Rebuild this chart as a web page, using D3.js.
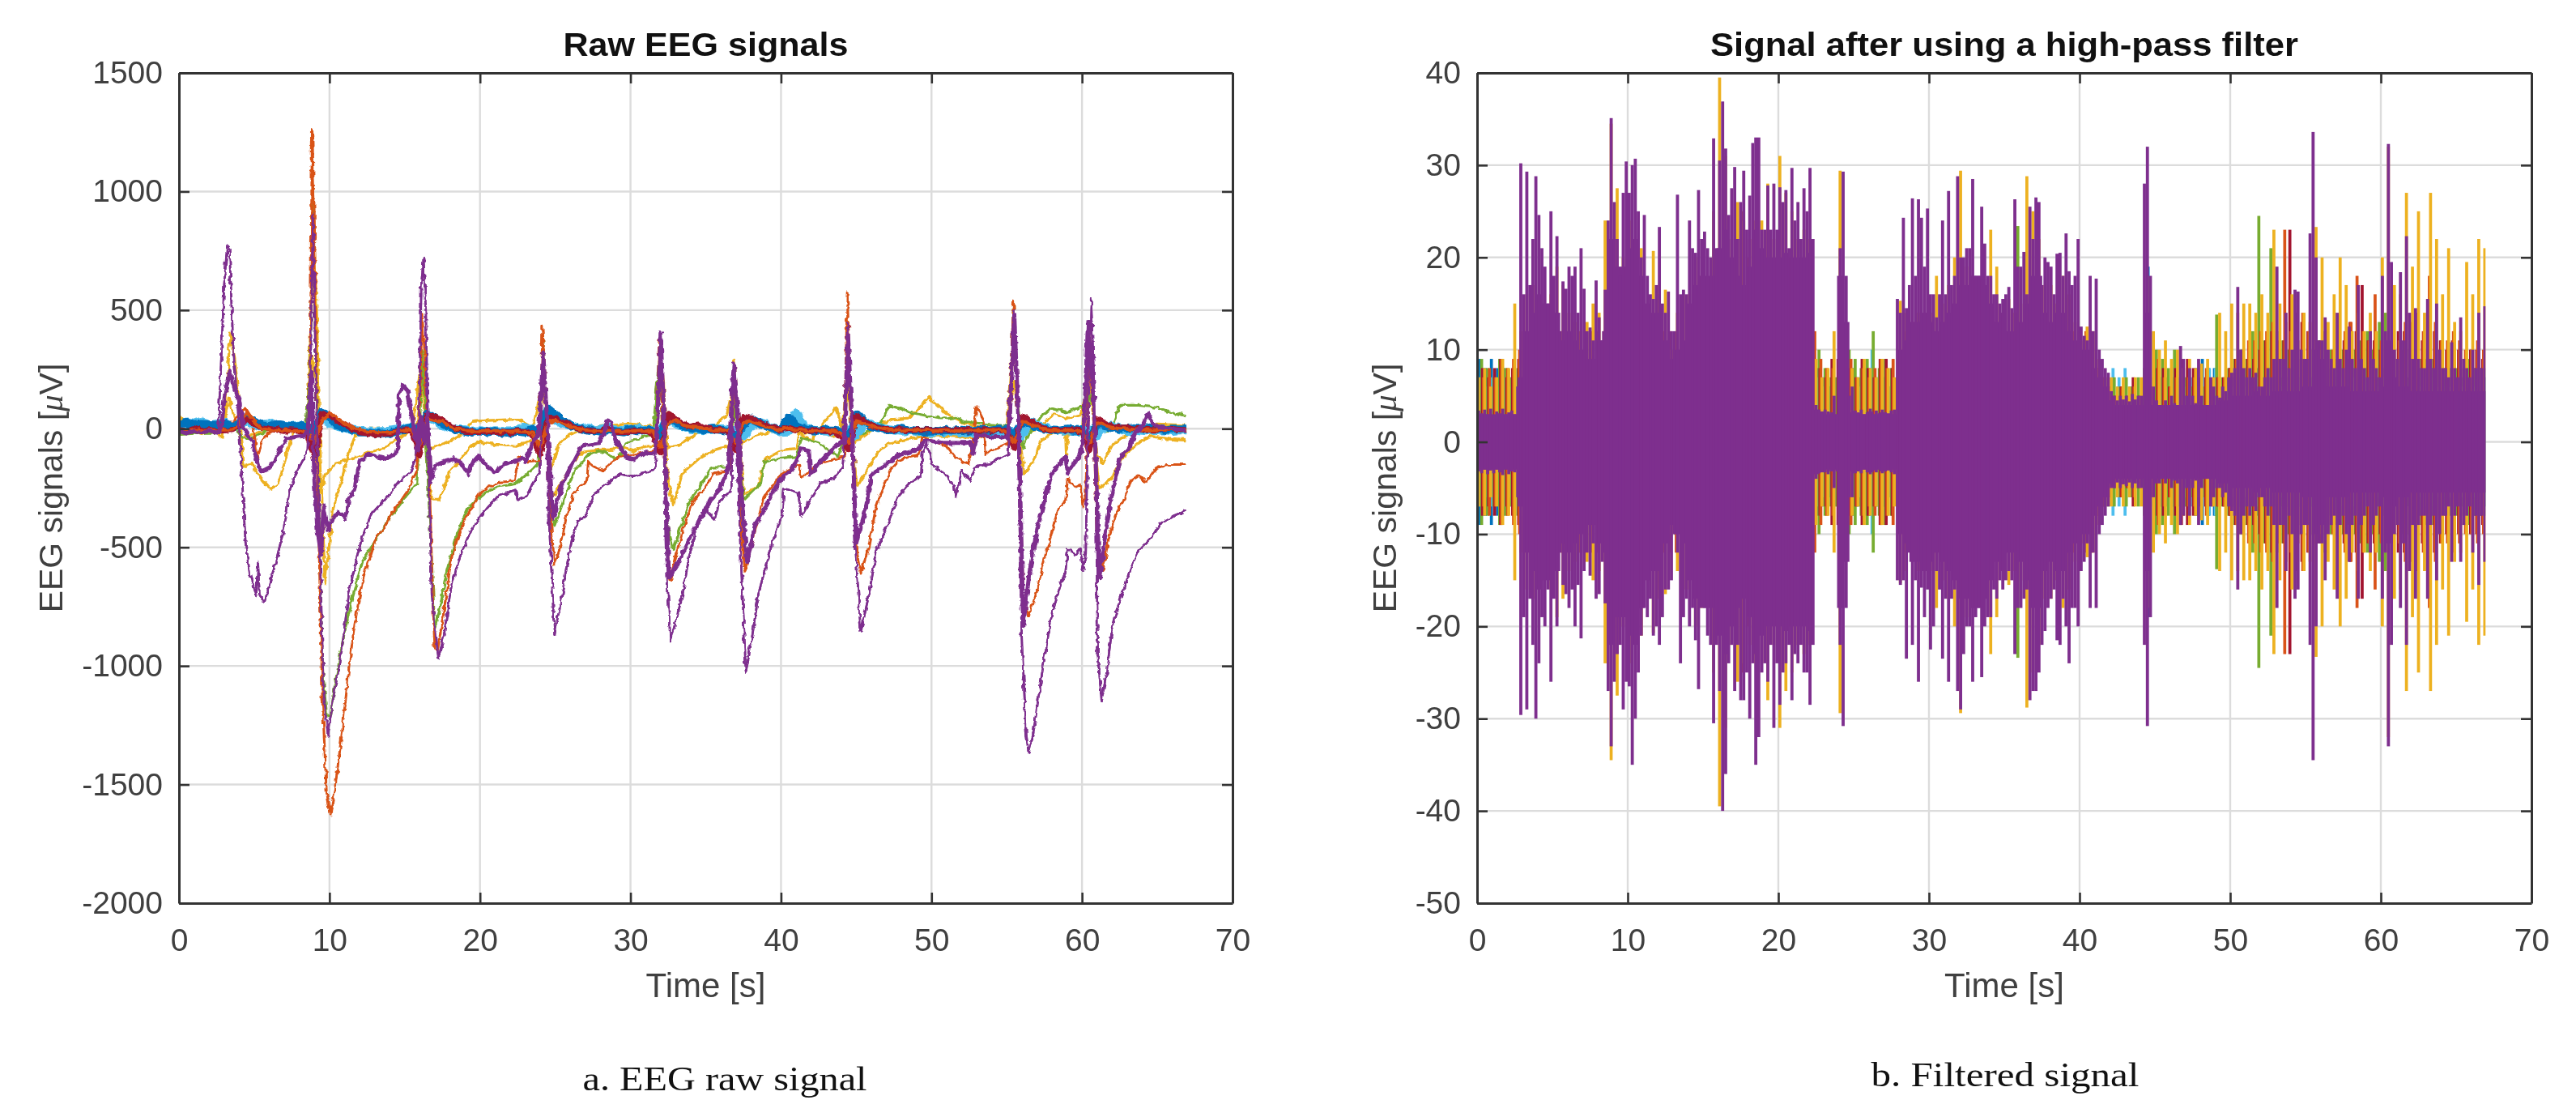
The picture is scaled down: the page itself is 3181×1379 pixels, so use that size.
<!DOCTYPE html>
<html><head><meta charset="utf-8">
<script src="https://cdnjs.cloudflare.com/ajax/libs/d3/7.8.5/d3.min.js"></script>
<style>
html,body{margin:0;padding:0;background:#fff}
svg{display:block;filter:blur(0.75px)}
text{font-family:"Liberation Sans",Arial,sans-serif;fill:#404040}
</style></head><body><svg id="c" width="3181" height="1379"></svg>
<script>
const xTicks=[0,10,20,30,40,50,60,70];
const rawTicks=[-2000,-1500,-1000,-500,0,500,1000,1500];
const filtTicks=[-50,-40,-30,-20,-10,0,10,20,30,40];

/* ---- panel a: [t, µV] ---- */
const rawPurpleDeep=[[0,-15],[1,-12],[2,-15],[2.6,-5],[2.75,200],[3,600],[3.2,770],[3.35,760],[3.6,350],[3.9,100],[4.15,-154],[4.42,-480],[4.7,-610],[5.14,-702],[5.25,-565],[5.35,-700],[5.68,-730],[6.04,-650],[6.5,-545],[6.85,-455],[7.1,-376],[7.3,-270],[7.74,-193],[8.28,-127],[8.55,-88],[8.75,300],[8.9,900],[9.1,200],[9.4,-600],[9.6,-1100],[9.9,-1297],[10.25,-1134],[10.8,-938],[11.3,-690],[11.85,-532],[12.2,-454],[12.76,-362],[13.85,-284],[14.7,-219],[15.4,-180],[15.7,-127],[15.95,50],[16.1,600],[16.25,720],[16.4,500],[16.6,-200],[16.8,-700],[17.24,-970],[17.6,-872],[18.1,-663],[18.7,-532],[19.4,-428],[20.1,-362],[21.2,-284],[22.35,-258],[22.5,-297],[23.1,-284],[23.5,-230],[23.95,-186],[24.1,100],[24.25,300],[24.4,100],[24.6,-400],[24.95,-869],[25.4,-720],[25.75,-584],[26.1,-470],[26.5,-390],[27,-368],[27.55,-277],[28.45,-231],[29.25,-191],[30.2,-203],[30.95,-186],[31.65,-174],[31.85,100],[32,410],[32.15,150],[32.35,-500],[32.65,-897],[33.1,-789],[33.45,-703],[33.9,-538],[34.5,-402],[35.05,-345],[35.6,-379],[35.95,-300],[36.4,-277],[36.7,-265],[36.85,260],[37,120],[37.3,-493],[37.67,-1028],[38.1,-869],[38.5,-698],[39.2,-527],[40.1,-356],[40.2,-250],[40.5,-254],[41.15,-271],[41.35,-368],[41.85,-311],[42.6,-231],[43.5,-208],[44.1,-163],[44.3,100],[44.45,440],[44.65,100],[44.95,-500],[45.3,-857],[45.85,-698],[46.35,-516],[46.7,-459],[47.25,-379],[47.8,-282],[48.5,-231],[49.3,-203],[49.4,-100],[49.7,-60],[50.05,-151],[50.85,-186],[51.5,-242],[51.65,-288],[52,-174],[52.55,-220],[52.9,-163],[53.9,-146],[55.1,-106],[55.3,100],[55.5,500],[55.7,100],[56,-891],[56.3,-1290],[56.45,-1370],[56.75,-1290],[57.3,-1051],[58,-778],[58.55,-664],[58.9,-607],[59.05,-504],[59.55,-533],[59.9,-504],[60.05,-595],[60.25,-527],[60.4,100],[60.6,550],[60.85,100],[61.05,-948],[61.3,-1148],[61.6,-1039],[61.95,-869],[62.2,-789],[62.7,-686],[63.2,-595],[63.75,-516],[64.65,-459],[65.2,-402],[66.05,-368],[66.9,-345]];
const rawPurpleThick=[[0,-10],[0.5,-20],[1,-10],[1.5,-18],[2,-8],[2.5,-20],[2.8,-10],[3,120],[3.35,245],[3.6,190],[4,120],[4.3,0],[4.85,-50],[5.24,-153],[5.5,-180],[6.1,-160],[6.6,-100],[7.2,-40],[8.3,-30],[8.55,-10],[8.8,240],[9,-220],[9.2,-428],[9.45,-532],[9.6,-323],[9.9,-430],[10.25,-375],[10.6,-350],[11.05,-380],[11.3,-297],[11.7,-245],[12,-140],[12.6,-108],[13.3,-120],[13.8,-127],[14.45,-101],[14.55,-60],[14.6,147],[14.9,180],[15.2,160],[15.4,75],[15.7,-22],[15.9,-88],[16.1,50],[16.3,-60],[16.5,40],[16.7,-220],[17,-155],[17.6,-140],[18.3,-127],[18.8,-150],[19.2,-190],[19.4,-150],[19.9,-115],[20.5,-160],[21,-180],[21.6,-150],[22.1,-140],[22.8,-127],[23,-140],[23.5,-60],[23.9,-20],[24.2,320],[24.4,100],[24.85,-379],[25.4,-242],[26.1,-151],[26.75,-72],[27.9,-60],[28.25,-20],[28.45,36],[28.7,30],[29,-49],[29.7,-117],[30.2,-129],[30.95,-100],[31.65,-106],[31.8,50],[32,400],[32.2,100],[32.55,-630],[33.1,-573],[33.8,-482],[34.7,-368],[35.4,-294],[35.95,-254],[36.3,-197],[36.5,-170],[36.7,100],[36.87,275],[37.1,100],[37.4,-300],[37.75,-561],[38.3,-402],[38.85,-345],[39.55,-254],[40.2,-197],[40.7,-174],[41.15,-117],[41.35,-83],[41.85,-90],[41.95,-197],[42.6,-140],[43.3,-94],[44.2,-49],[44.45,400],[44.7,50],[45,-482],[45.6,-345],[46,-197],[46.7,-163],[47.8,-112],[49.05,-89],[49.6,-49],[50.8,-60],[52.6,-60],[52.8,-106],[53,-26],[53.9,-32],[55.1,-38],[55.5,480],[55.8,0],[56.1,-834],[56.5,-607],[56.95,-447],[57.5,-300],[58,-186],[58.9,-117],[59.05,-186],[59.9,-106],[60.1,-38],[60.4,450],[60.8,100],[61.15,-630],[61.6,-425],[61.95,-288],[62.5,-129],[63.2,-72],[63.55,-15],[64,10],[64.4,65],[64.7,25],[65.2,5],[66,0],[66.9,-8]];
const rawOrange=[[0,-5],[2.6,-5],[3,0],[3.6,30],[4,60],[4.4,90],[4.7,60],[5,-20],[5.2,-120],[5.4,-85],[5.7,-30],[6.2,-10],[8.4,-10],[8.7,50],[8.85,1260],[9,900],[9.2,-200],[9.53,-1134],[9.8,-1526],[10.07,-1624],[10.4,-1500],[10.87,-1265],[11.3,-1003],[11.68,-820],[12.2,-637],[12.76,-520],[13.1,-461],[13.65,-415],[14.35,-337],[15.1,-271],[15.6,-206],[15.8,-180],[16,100],[16.15,480],[16.35,300],[16.6,-100],[16.85,-700],[17,-925],[17.2,-930],[17.6,-768],[18.1,-545],[18.7,-428],[19.4,-336],[20.1,-265],[21.2,-226],[22.35,-219],[22.6,-115],[23,-140],[23.8,-134],[24,-130],[24.15,430],[24.35,200],[24.6,-300],[24.95,-573],[25.4,-482],[25.75,-368],[26.2,-277],[26.65,-242],[27.1,-220],[27.2,-140],[27.7,-163],[28.15,-174],[28.6,-151],[29.15,-117],[30,-110],[31,-100],[31.7,-90],[31.9,380],[32.1,100],[32.4,-400],[32.65,-640],[33.1,-516],[33.6,-402],[34.2,-300],[34.9,-254],[35.5,-191],[36.3,-180],[36.7,-160],[36.85,200],[37.05,100],[37.35,-400],[37.6,-601],[38.3,-425],[38.85,-288],[40.1,-186],[41.2,-150],[41.35,-208],[41.85,-180],[42.6,-146],[43.5,-129],[44.2,-117],[44.4,575],[44.6,200],[44.95,-450],[45.3,-607],[45.8,-504],[46.3,-334],[46.7,-265],[47.25,-174],[47.8,-134],[49.2,-106],[49.4,-30],[49.95,-49],[51,-72],[51.55,-117],[52.45,-151],[52.75,-60],[53,93],[53.5,30],[53.6,-110],[53.9,-94],[55.1,-60],[55.45,540],[55.7,200],[56.1,-720],[56.45,-789],[56.95,-698],[57.5,-550],[57.95,-447],[58.35,-345],[58.9,-305],[59.05,-208],[59.55,-248],[59.9,-237],[60.05,-328],[60.25,-282],[60.45,300],[60.75,100],[61.05,-584],[61.4,-595],[61.75,-470],[62.2,-368],[62.85,-288],[63.2,-220],[63.75,-197],[64.2,-225],[65,-163],[66.05,-151],[66.9,-151]];
const rawGreen=[[0,-25],[1,-20],[2.5,-20],[3,-10],[3.5,20],[4,-20],[4.5,-45],[5,-35],[5.5,-20],[6,-5],[8.4,-5],[8.7,200],[8.9,950],[9.1,300],[9.35,-532],[9.53,-1003],[9.8,-1200],[10.07,-1213],[10.4,-1068],[10.95,-872],[11.5,-716],[12.2,-559],[13.1,-467],[14,-376],[14.9,-298],[15.8,-232],[16,0],[16.15,330],[16.35,100],[16.6,-300],[17,-853],[17.3,-768],[17.8,-598],[18.5,-441],[19.2,-336],[19.6,-310],[20.3,-271],[21.2,-245],[22.4,-232],[23.8,-154],[24,-50],[24.2,370],[24.4,100],[24.7,-300],[24.95,-408],[25.4,-330],[25.75,-265],[26.3,-174],[26.8,-140],[27.2,-112],[27.9,-94],[28.4,-98],[28.9,-123],[29.2,-117],[29.7,-60],[31.5,-20],[31.9,300],[32.1,100],[32.5,-420],[32.85,-510],[33.4,-402],[33.8,-322],[34.5,-254],[35.4,-163],[36.5,-163],[36.8,0],[36.95,120],[37.2,-100],[37.55,-300],[38.65,-231],[38.9,-140],[40.1,-123],[41,-117],[41.4,-38],[42.5,-60],[43.3,-94],[43.8,-117],[44.2,-40],[44.45,300],[44.7,50],[45,-38],[46,0],[46.7,30],[47.2,99],[47.8,88],[48.5,70],[49.8,53],[51,42],[51.6,48],[52.1,30],[55.2,10],[55.45,520],[55.7,150],[56.1,-80],[56.5,-20],[57.3,53],[58,88],[59,70],[59.95,93],[60.3,60],[60.6,150],[60.9,30],[61.5,-10],[62,10],[62.5,99],[63.75,99],[65,88],[66.9,53]];
const rawYellowLow=[[0,25],[0.5,-20],[1,-15],[1.5,-25],[2,-10],[2.5,-20],[2.9,-40],[3.1,100],[3.4,400],[3.7,300],[4,100],[4.3,-160],[4.85,-147],[5.4,-206],[6.1,-258],[6.6,-232],[6.9,-170],[7.3,-75],[7.6,-10],[8,10],[8.5,5],[8.8,500],[8.95,850],[9.15,500],[9.4,-100],[9.7,-650],[10,-480],[10.25,-336],[10.8,-219],[11.3,-101],[11.7,-30],[12.5,0],[15,0],[15.8,5],[16.05,150],[16.2,300],[16.4,-50],[16.8,-297],[17.3,-297],[18,-180],[18.7,-127],[19.4,-75],[20,-55],[21.2,-68],[22.4,-75],[23.5,-50],[24,0],[24.2,250],[24.45,0],[24.75,-294],[25.4,-231],[26.1,-151],[26.8,-100],[27.9,-89],[28.8,-89],[29.25,-75],[30.2,-94],[30.95,-75],[31.6,-72],[31.85,100],[32,300],[32.2,200],[32.45,-200],[32.85,-322],[33.45,-186],[34.5,-129],[35.6,-89],[36.5,-72],[36.75,150],[36.9,290],[37.1,120],[37.35,-150],[37.55,-277],[38.5,-242],[38.95,-129],[40.1,-89],[41,-83],[41.3,30],[41.6,-20],[42.5,-10],[43.5,-30],[44.1,-20],[44.4,300],[44.65,0],[45.05,-242],[45.8,-163],[46.6,-90],[47.25,-60],[48.5,-43],[49.5,-30],[51,-30],[53,-40],[54,-20],[55,-10],[55.45,450],[55.8,0],[56.15,-191],[56.75,-140],[57.3,-49],[58,-20],[58.9,-20],[58.95,-106],[59.1,-20],[60,-20],[60.5,400],[60.9,-100],[61.15,-254],[61.95,-208],[62.5,-140],[63.2,-89],[64,-50],[64.65,-32],[65.7,-43],[66.9,-49]];
const rawYellowHigh=[[0,55],[0.5,20],[1,30],[1.5,15],[2,30],[2.5,10],[3,5],[3.35,130],[3.7,40],[4.1,-40],[5,-20],[6,-5],[8.5,-5],[8.8,300],[9.1,200],[9.45,-270],[9.7,-193],[10.4,-147],[11.5,-127],[12.6,-101],[13.85,-75],[14.55,-42],[15.5,-5],[16.1,280],[16.4,-40],[16.6,-88],[17.6,-62],[18.5,-36],[19,-10],[19.5,30],[20.5,35],[22.5,40],[23.5,5],[24.2,200],[24.5,-20],[24.7,-174],[25.2,-72],[25.75,-32],[26.5,-10],[28,10],[30,20],[31.5,10],[32,150],[32.5,-83],[33.5,-60],[34.5,-15],[35.5,5],[36.4,60],[36.9,200],[37.4,-60],[38.3,-32],[39.5,-10],[40.5,10],[41.3,-20],[42,-50],[43,40],[43.7,90],[44,10],[44.5,150],[44.9,-60],[45.5,-30],[46.5,20],[47.5,40],[48.5,45],[49.2,88],[49.8,133],[51,65],[51.9,30],[53,10],[55,0],[55.5,200],[55.9,-20],[57,0],[58.2,65],[58.9,40],[59.9,60],[60.5,200],[61,-110],[61.4,-146],[62,-70],[62.6,-40],[64,10],[65,20],[66.9,14]];

/* thick band round zero, one value each half second */
const bandBlue=[20,25,15,20,18,15,20,10,20,50,30,15,10,20,15,10,15,10,-40,70,45,15,5,-5,-15,-15,-20,-18,-20,-10,-5,10,-20,60,45,20,5,-5,-8,-15,-10,-15,-10,-18,-15,-12,-15,-5,-10,85,60,30,15,5,-5,-10,-15,-5,-10,-15,-5,-10,-5,-10,-30,50,30,10,5,0,-5,0,-5,-10,-50,20,40,25,10,0,-5,50,10,0,-5,-8,-5,-5,-10,-50,60,30,10,5,-5,-5,0,-5,-8,-10,-8,-10,-5,-8,-5,-8,-5,-5,-5,0,-5,-30,30,25,10,0,-5,-5,0,-5,-5,-60,25,15,5,0,0,5,0,5,0,-5,0,0,0];
const bandRed=[-5,-10,0,-8,-5,-10,-8,-5,10,40,20,5,0,-5,-10,-5,-10,-20,-120,60,60,35,20,0,-15,-20,-25,-22,-20,-10,-5,-10,-110,55,50,35,15,0,-10,-12,-15,-10,-15,-12,-15,-10,-10,-20,-110,50,45,25,15,0,-5,-10,-10,0,-15,-15,-10,-10,-10,-20,-100,60,40,20,10,15,5,-5,-5,-15,-90,50,45,25,15,5,-5,5,-5,-5,-10,-5,-10,-10,-30,-90,55,30,15,5,0,-5,-5,-8,-5,-5,-5,-8,-5,-7,-5,-6,-8,-5,-7,-5,-10,-80,50,35,15,0,-5,-5,-5,-5,-10,-90,40,25,10,5,5,0,0,-5,-5,0,0,-5,-5];
const bandOrange=[-5,-8,-3,-10,-5,-8,-5,-5,15,70,30,0,-5,-8,-5,-10,-8,-15,-60,30,70,45,25,5,-5,-10,-15,-12,-15,-10,-5,-5,-70,45,35,30,10,0,-8,-10,-12,-10,-8,-10,-12,-10,-12,-15,-80,30,35,20,10,0,-5,-8,-10,-8,-10,-12,-10,-8,-10,-12,-80,25,35,15,8,5,0,-5,-5,-8,-60,25,30,20,10,0,-5,5,-5,-5,-10,-8,-8,-10,-20,-60,30,20,10,5,0,-5,-8,-5,-8,-5,-8,-10,-5,-8,-10,-8,-5,-8,-8,-5,-15,-60,30,20,10,0,-5,-8,-5,-8,-10,-60,25,15,5,0,0,-5,-3,-5,-3,-5,-3,-5,-5];
const bandCyan=[15,25,20,30,15,20,25,5,10,35,20,10,20,10,15,10,15,5,-10,50,25,10,5,-5,-10,-12,-15,-12,-10,-5,0,5,-15,50,35,15,5,-3,-5,-10,-8,-12,-8,-10,-8,-5,0,-5,-10,60,40,20,15,5,0,-5,-5,0,-5,-8,-5,0,-5,-8,-15,40,20,10,0,-3,-5,-3,0,-5,-8,-30,15,25,15,0,-12,-10,65,10,-5,-8,-10,-8,-10,-8,-30,30,20,5,0,-5,-10,-8,-12,-10,-15,-12,-10,-12,-15,-12,-15,-12,-10,-15,-10,-12,-30,30,15,5,-5,-8,-5,-8,-5,-10,-30,15,10,0,-12,-5,-10,-5,-8,-5,-8,-5,-5];

/* ---- panel b: extremes of the purple channel every 0.2 s ---- */
const filtTop=[3.4,3.1,3.5,3,3.6,2.9,3.3,3.1,3.6,3,3.2,3.4,3,6,30.2,16,29.3,17,22,28.8,
24.6,21,19,15,25,18,22.3,12,17.4,16.6,19,18,19,14,21,16.6,12,12.4,11,17.5,
13.5,11,16.5,24,35.1,26,22,18,27,30.4,27,30,30.7,25,20,24.6,18,16,15.5,17,
23.3,15,14,16.3,12,12,26.8,16,16.5,16,24,21,20.5,27.3,22,22.8,21,20,32.9,21,
30.5,36.9,31.8,24.6,27.5,29.8,22,26,29.4,23,26.7,32.4,33,33,23,23,27.8,23,28,23,
27.6,26,27.3,21,29.7,24,26,22,27.5,25,29.7,22,4,3.5,3.2,3.5,3.3,3.2,5,3,
21,29.3,18,5,6,3.4,3.2,3.5,3,3.2,3.6,3,3.4,3.1,3.5,3.2,3,3.4,3.5,15.5,
14,24.3,14.5,17,26.4,18,26.3,24.3,19,25.3,16,16,13.5,16,24,16,27.2,17,18,28.8,
20,20,21,21,28.5,18,18,25.5,21.5,18,18,16,16,15,15.5,16,16.8,14.5,26.3,19,
19,20.6,16,25.5,22,26.5,26,17,20,19.5,19,16,20.4,20.5,18,22.6,18.5,17,18,22,
12.5,11.5,11,18,12,17.7,10,9,8,7.5,5.5,5,4.5,5,4.6,5,4.4,5.2,4.6,5,
5,28,32,18,6,4.5,4,3.8,4.5,4,5,4.2,4,10.4,9,5,8,5,4.2,9,
5,4,3.8,7,6,5,4.8,6,5.5,7,7.5,8,16.8,10,8,7,8,7,7.5,6,
6,7,8,7,9,19,9,9,14,8,10,16.5,16.3,10,9,9,22.6,33.6,20,11,
11,13.5,10,9,8,14,9,8,10,12.5,9,8,17,9,8,7,12,9,8,7,
18,12,32.3,19.5,10,9,18.4,11,22.3,14,9,14.5,9,8,8,15.5,9,8,15,10,
8,8,7,10.8,8,7,13.5,9,8,7,10,8,14,8,14.7];
const filtBottom=[-3.2,-3.4,-3,-3.5,-3.1,-3.4,-3,-3.3,-3.6,-3,-3.5,-3.2,-3.3,-6,-29.6,-19,-29,-17,-22,-30,
-24,-19,-20,-16,-26,-17,-20,-12,-15.5,-16.5,-18,-16,-20,-15.5,-21.3,-14,-12,-14.5,-11,-17,
-16.5,-13,-17.5,-27,-33,-26,-23,-22,-29,-26,-26.5,-35,-30,-25,-21,-18,-19,-17,-21,-20,
-22,-19,-16,-16,-15,-10,-12,-24,-19,-17,-20,-18,-21.5,-26.8,-17,-18,-21,-22,-30.5,-22,
-27,-40,-36,-24,-22,-27,-22,-28,-28,-25,-30,-24,-35,-32,-25,-24,-26,-22,-31,-24,
-28.5,-25,-24,-22,-28,-23,-24,-22,-25,-25,-28.5,-22,-4,-3.4,-3.2,-3.3,-3.5,-3.2,-5,-3.2,
-22,-30.8,-18,-6,-6,-3.4,-3.2,-3.4,-3,-3.3,-3.5,-3.1,-3.3,-3,-3.4,-3.2,-3,-3.3,-3.5,-15,
-15.5,-15,-23.5,-12,-22,-15,-26,-15.8,-19,-16,-22.5,-20,-14,-16,-23.5,-17,-26,-17,-16,-27,
-29,-23,-20,-20,-26,-19,-18,-25.5,-20,-19,-19,-16,-17,-15,-16,-15,-14,-15,-23,-18,
-18,-17,-16,-28,-27,-27,-25,-22,-20.5,-18,-17,-16,-21.5,-22,-17,-20,-24,-18,-18,-20,
-14,-13,-11,-18,-12,-18,-10,-9,-8,-7,-5,-5,-4.4,-5,-4.6,-4.8,-4.4,-5,-4.5,-5,
-5,-22,-30.8,-19,-6,-4.5,-4.5,-4,-4.5,-4,-5,-4.2,-4.5,-9,-8,-5,-8,-5,-4.2,-9,
-5,-4,-4,-7,-6,-5,-5,-6,-5.5,-7,-7.5,-8,-16,-10,-8,-7,-8,-7,-7.5,-6,
-6,-7,-8,-7,-9,-18,-9,-9,-14,-8,-10,-17,-16,-10,-9,-9,-22,-34.5,-20,-11,
-11,-15,-10,-9,-8,-17,-9,-8,-10,-13,-9,-8,-17,-9,-8,-7,-12,-9,-8,-7,
-17,-12,-33,-22,-10,-9,-18,-11,-22,-14,-9,-17,-9,-8,-8,-17,-9,-8,-15,-10,
-8,-8,-7,-13,-8,-7,-13,-9,-8,-7,-12,-8,-15.5,-8,-13];
/* solid body of the purple channel, half-height every 0.4 s */
const filtBody=[3,3,3,3,3,3,3,7,12,14,
16,15,15,14,11,12,11,10,9,9,
11,12,22,19,19,21,22,18,15,14,
14,11,9,10,11,15,17,18,18,18,
21,23,20,18,17,19,23,21,20,20,
20,20.5,20,20,20,20.5,3.5,3.3,3,3,
18,13,3.2,3.1,3,3.3,3,3.2,3.1,3,
10,11,13,13,14,13,12,13,14,15,
17,17,18,18,17,15,13,14,12,12,
13,15,18,18,14,13,14,14,12,11,
10,10,8,7,6,4.5,4,4,4,4,
4,14,4,4,4,4,4,4,4,4,
4,4,4,4.5,4.5,5,5,5,5,5.5,
5,5,5.5,5.5,5.5,5.5,5.5,6,6,10,
9,6,6,6,6,5.5,5.5,5.5,5.5,5.5,
6,11,7,6,6,5.5,5.5,5.5,5.5,5.5,
5.5,5.5,5.5,5.5,5.5,5.5,5.5,5.5];

/* other channels, half-height every 0.4 s */
const filtYellow=[7,8,6,7,9,8,15,12,16,17,15,14,16,19,17,14,13,12,13,15,14,24,34.5,27.5,20,24,17,21,14,20.7,17,16.5,10,14,16,16,20,18,17,25,39.5,31,22,26,24,22,24,24,28,22,31,27,25,22,23,22,9,7,8,12,29.4,10,8,7,9,8,7,9,8,7,15.3,14,13,14,14,14,18,15,17,20,29.4,19,18,17,17,23,19,14,15.5,14,15,28.8,25,22,17,17,15,18,16,13,11,12.5,12,9,7,7,6,7,6,7,7,18,12,10,11,9,10,8,9,8,8.5,9,7,14,12,15,14,15,15,14,16,14,23,15,13,16,11,14,13,23.3,20,13,16,20,17,12,14,12,14,12,20,32,17,16,27,19,25,14,27,22,16,21,13,12,19.5,16,22,21];
const filtOrange=[7,8,7,9,8,9,10,12,12,12,12,12,12,12,12,12,12,12,12,12,12,12,12,12,17,12,12,12,12,16,12,12,12,12,12,12,12,12,12,12,12,12,12,25,20,12,12,12,12,12,12,12,12,12,12,12,9,8,8,8,10,9,7,8,7,8,9,8,9,8,12,12,12,12,12,12,12,12,12,12,12,12,12,12,12,12,12,12,12,12,12,12,12,12,12,12,12,12,12,12,12,12,8,7,6,5,6,5,6,5,6,6,9,7,6,7,8,7,7,6,8,7,7,7,8,9,10,11,11,12,12,13,11,23,12,13,14,12,11,10,12,10,11,12,13,18,12,11,16,11,10,11,11,13,13,14,12,18,13,11,11,12,11,10,10,11,10,11];
const filtRed=[8,7,8,9,7,8,9,10,10,10,10,10,10,10,10,10,10,10,10,10,10,10,10,10,10,10,10,10,10,10,10,10,10,10,10,10,10,10,10,10,10,10,10,10,10,10,10,10,10,10,10,10,10,10,10,10,8,7,9,9,9,8,7,9,8,7,9,9,8,7,10,10,10,10,10,10,10,10,10,10,10,10,10,10,10,10,10,10,10,10,10,10,10,10,10,10,10,10,10,10,10,10,8,7,6,5,6,5,7,5,6,6,8,8,6,8,9,9,8,7,7,6,7,7,8,9,8,9,9,10,11,12,10,11,23,14,13,12,11,11,10,9,10,11,13,12,17,11,11,10,10,10,12,12,10,12,11,10,12,11,10,11,10,9,10,10,9,10];
const filtGreen=[9,8,7,9,8,7,8,8,8,8,8,8,8,8,8,8,8,8,8,8,8,8,8,8,8,8,8,8,8,8,8,8,8,8,8,8,8,8,8,8,8,8,8,8,8,8,8,8,8,8,8,8,8,8,8,8,10,8,7,7,9,10,9,8,9,12,8,9,8,7,8,8,8,8,8,8,8,8,8,8,8,8,8,8,8,8,8,8,8,23.4,8,8,8,8,8,8,8,8,8,8,8,8,8,7,7,7,6,7,6,7,8,7,10,9,8,10,9,7,6,6,6,6,13.8,7,8,9,10,9,12,24.5,11,21,12,11,10,10,9,9,10,11,12,10,9,10,9,10,11,12,10,13,14,10,9,10,10,9,9,10,9,9,8,8,8,8,9,8,8,8];
const filtBlue=[9,8,9,8,8,7,6,7,7,7,7,7,7,7,7,7,7,7,7,7,7,7,7,7,7,7,7,7,7,7,7,7,7,7,7,7,7,7,7,7,7,7,7,7,7,7,7,7,7,7,7,7,7,7,7,7,8,7,6,7,6,8,8,7,7,8,7,7,6,6,7,7,7,7,7,7,7,7,7,7,7,7,7,7,7,7,7,7,7,7,7,7,7,7,7,7,7,7,7,7,7,7,7,7,6,5,6,6,6,5,6,19,8,7,7,7,6,7,7,8,9,8,8,6,7,7,7,8,7,8,7,8,7,7,7,8,7,7,7,8,8,8,7,8,8,8,7,8,9,7,8,8,7,8,7,8,8,9,8,8,7,8,7,7,8,8,8,7];
const filtCyan=[7,6,7,6,7,6,6,6,6,6,6,6,6,6,6,6,6,6,6,6,6,6,6,6,6,6,6,6,6,6,6,6,6,6,6,6,6,6,6,6,6,6,6,6,6,6,6,6,6,6,6,6,6,6,6,6,7,6,6,5,6,7,8,6,8,10,7,7,6,6,6,6,6,6,6,6,6,6,6,6,6,6,6,6,6,6,6,6,6,6,6,6,6,6,6,6,6,6,6,6,6,6,6,6,6,8,7,8,6,5,4,5,6,7,6,7,7,6,5,6,7,8,8,5,6,6,7,6,6,7,6,7,6,6,7,6,7,6,7,6,6,6,7,7,7,7,7,7,6,6,7,7,6,6,6,7,6,7,7,6,6,6,6,6,7,6,8,8];

const C={blue:"#0072BD",orange:"#D95319",yellow:"#EDB120",purple:"#7E2F8E",green:"#77AC30",cyan:"#4DBEEE",red:"#A2142F"};
const svg=d3.select("#c");
/* drawing-only roughness for the raw traces: the data stay as typed */
const rough=svg.append("filter").attr("id","rough").attr("filterUnits","userSpaceOnUse")
  .attr("x",0).attr("y",0).attr("width",3181).attr("height",1379);
rough.append("feTurbulence").attr("type","fractalNoise").attr("baseFrequency",0.14).attr("numOctaves",2).attr("seed",4).attr("result","n");
rough.append("feDisplacementMap").attr("in","SourceGraphic").attr("in2","n").attr("scale",6).attr("xChannelSelector","R").attr("yChannelSelector","G");

function frame(left,right,top,bottom,yDomain,yTicks,title,titleLen,labelX,id){
  const x=d3.scaleLinear().domain([0,70]).range([left,right]);
  const y=d3.scaleLinear().domain(yDomain).range([bottom,top]);
  const g=svg.append("g");
  g.append("g").selectAll("line").data(xTicks.slice(1,-1)).join("line")
    .attr("x1",d=>x(d)).attr("x2",d=>x(d)).attr("y1",top).attr("y2",bottom)
    .attr("stroke","#dcdcdc").attr("stroke-width",2.4);
  g.append("g").selectAll("line").data(yTicks.slice(1,-1)).join("line")
    .attr("y1",d=>y(d)).attr("y2",d=>y(d)).attr("x1",left).attr("x2",right)
    .attr("stroke","#dcdcdc").attr("stroke-width",2.4);
  svg.append("clipPath").attr("id",id).append("rect")
    .attr("x",x(0)).attr("width",x(66.95)-x(0)).attr("y",top).attr("height",bottom-top);
  const marks=g.append("g").attr("clip-path",`url(#${id})`).append("g");
  const style=a=>{a.selectAll("path").attr("stroke","#333").attr("stroke-width",3);
    a.selectAll("line").attr("stroke","#333").attr("stroke-width",2.6);
    a.selectAll("text").attr("fill","#404040").style("font-size","39px");};
  const over=svg.append("g");
  over.append("g").attr("transform",`translate(0,${bottom})`)
    .call(d3.axisBottom(x).tickValues(xTicks).tickFormat(String).tickSizeInner(-13).tickSizeOuter(0).tickPadding(30)).call(style)
    .call(a=>a.selectAll("text").attr("dy","0.75em"));
  over.append("g").attr("transform",`translate(0,${top})`)
    .call(d3.axisTop(x).tickValues(xTicks).tickFormat("").tickSizeInner(-13).tickSizeOuter(0)).call(style);
  over.append("g").attr("transform",`translate(${left},0)`)
    .call(d3.axisLeft(y).tickValues(yTicks).tickFormat(String).tickSizeInner(-13).tickSizeOuter(0).tickPadding(20)).call(style);
  over.append("g").attr("transform",`translate(${right},0)`)
    .call(d3.axisRight(y).tickValues(yTicks).tickFormat("").tickSizeInner(-13).tickSizeOuter(0)).call(style);
  const cx=(left+right)/2;
  over.append("text").attr("x",cx).attr("y",69).attr("text-anchor","middle")
    .attr("textLength",titleLen).attr("lengthAdjust","spacingAndGlyphs")
    .style("font-size","41px").style("font-weight","bold").style("fill","#111").text(title);
  over.append("text").attr("x",cx).attr("y",1231).attr("text-anchor","middle")
    .style("font-size","42px").text("Time [s]");
  const yl=over.append("text").attr("transform",`translate(${labelX},${(top+bottom)/2}) rotate(-90)`)
    .attr("text-anchor","middle").style("font-size","41px");
  yl.append("tspan").text("EEG signals [");
  yl.append("tspan").style("font-family","'Liberation Serif',serif").style("font-style","italic").text("\u03BC");
  yl.append("tspan").text("V]");
  return {x,y,marks};
}

/* panel a */
const a=frame(221,1522,90,1115,[-2000,1500],rawTicks,"Raw EEG signals",352,77,"clipA");
a.marks.attr("filter","url(#rough)");
const la=d3.line().x(d=>a.x(d[0])).y(d=>a.y(d[1]));
const trace=(d,c,w,o)=>a.marks.append("path").datum(d).attr("d",la).attr("fill","none").attr("stroke",c).attr("stroke-width",w).attr("stroke-opacity",o).attr("stroke-linejoin","round");
[[rawPurpleDeep,C.purple,2.6,.9],[rawYellowHigh,C.yellow,3.2,1],[rawYellowLow,C.yellow,3.2,1],[rawGreen,C.green,3.2,1],[rawOrange,C.orange,3,1]].forEach(r=>trace(...r));
[[bandCyan,C.cyan,11],[bandBlue,C.blue,10],[bandRed,C.red,7],[bandOrange,C.orange,4]].forEach(([d,c,bw])=>{
  a.marks.append("path").datum(d).attr("fill","none").attr("stroke",c).attr("stroke-width",bw).attr("stroke-linejoin","round")
   .attr("d",d3.line().x((v,i)=>a.x(i*0.5)).y(v=>a.y(v)));
});
trace(rawPurpleDeep,C.purple,2.6,1);
trace(rawPurpleThick,C.purple,5,1);

/* panel b */
const b=frame(1824,3126,90,1115,[-50,40],filtTicks,"Signal after using a high-pass filter",726,1724,"clipB");
const w=dt=>b.x(dt)-b.x(0);
[[filtBlue,C.blue,.05],[filtCyan,C.cyan,.12],[filtGreen,C.green,.2],[filtRed,C.red,.26],[filtOrange,C.orange,.32],[filtYellow,C.yellow,.0]].forEach(([d,c,off])=>{
  b.marks.append("g").attr("fill",c).selectAll("rect").data(d).join("rect")
   .attr("x",(v,i)=>b.x(i*0.4+off)).attr("width",w(0.2))
   .attr("y",v=>b.y(v)).attr("height",v=>b.y(-v)-b.y(v));
});
b.marks.append("g").attr("fill",C.purple).selectAll("rect").data(filtBody).join("rect")
 .attr("x",(v,i)=>b.x(i*0.4-0.1)).attr("width",w(0.42))
 .attr("y",v=>b.y(v)).attr("height",v=>b.y(-v)-b.y(v));
b.marks.append("g").attr("fill",C.purple).selectAll("rect").data(filtTop).join("rect")
 .attr("x",(v,i)=>b.x(i*0.2)).attr("width",w(0.205))
 .attr("y",v=>b.y(v)).attr("height",(v,i)=>b.y(filtBottom[i])-b.y(v));

/* captions */
[["a. EEG raw signal",895,1346,351],["b. Filtered signal",2476,1341,331]].forEach(([t,x,y,l])=>{
  svg.append("text").attr("x",x).attr("y",y).attr("text-anchor","middle")
   .attr("textLength",l).attr("lengthAdjust","spacingAndGlyphs")
   .style("font-family","'Liberation Serif',serif").style("font-size","43px").style("fill","#111").text(t);
});
</script></body></html>
